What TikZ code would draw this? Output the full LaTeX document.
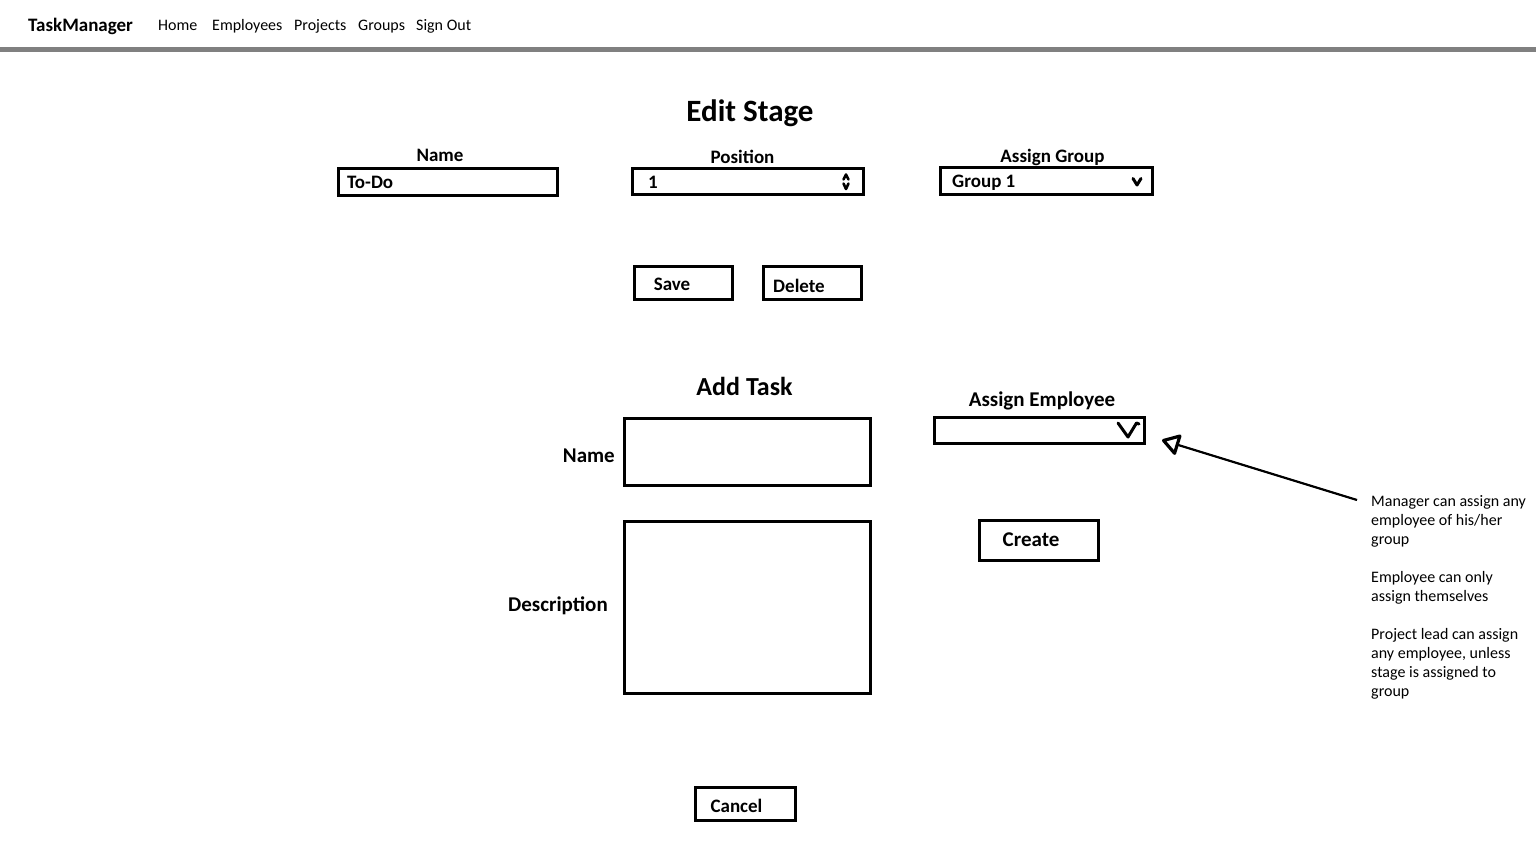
\documentclass[tikz,border=0pt]{standalone}
\usepackage{fontspec}
\setmainfont{Carlito}
\usetikzlibrary{arrows.meta}
\begin{document}
\begin{tikzpicture}[x=1pt,y=-1pt,
  txt/.style={inner sep=0pt, anchor=base},
  navtxt/.style={txt, anchor=base west, font=\fontsize{16}{19}\selectfont},
  brand/.style={txt, anchor=base west, font=\fontsize{19}{22}\selectfont\bfseries},
  lbl/.style={txt, font=\fontsize{19}{22}\selectfont\bfseries},
  lblL/.style={txt, font=\fontsize{21}{24}\selectfont\bfseries},
  ttl/.style={txt, font=\fontsize{31}{36}\selectfont\bfseries},
  subttl/.style={txt, font=\fontsize{26}{30}\selectfont\bfseries},
  note/.style={inner sep=0pt, anchor=base west, align=left, font=\fontsize{16}{19}\selectfont},
  fbox/.style={draw=black, line width=3pt, inner sep=0pt, fill=none},
  navline/.style={draw=gray, line width=4.5pt},
  glyph/.style={draw=black, line width=2.6pt, line cap=round, line join=round},
  pointer/.style={draw=black, line width=2.2pt,
    -{Triangle[open, length=19pt, width=23pt, line width=3.2pt, round]}}
]
\useasboundingbox (0,0) rectangle (1536,864);

% navigation bar
\node[brand] (brandTxt) at (28,32) {TaskManager};
\node[navtxt] (navHome) at (158,31) {Home};
\node[navtxt] (navEmp) at (212,31) {Employees};
\node[navtxt] (navProj) at (294,31) {Projects};
\node[navtxt] (navGrp) at (358,31) {Groups};
\node[navtxt] (navOut) at (416,31) {Sign Out};
\coordinate (navL) at (0,49.5);
\coordinate (navR) at (1536,49.5);
\draw[navline] (navL) -- (navR);

% Edit Stage
\node[ttl] (editTitle) at (750,121.5) {Edit Stage};

\node[lbl] (nameLbl) at (440,161) {Name};
\node[fbox, minimum width=219pt, minimum height=27pt] (nameBox) at (448,182) {};
\node[lbl, anchor=base west] (nameVal) at (347,188) {To-Do};

\node[lbl] (posLbl) at (742.5,163) {Position};
\node[fbox, minimum width=231pt, minimum height=26pt] (posBox) at (747.5,181.5) {};
\node[lbl, anchor=base west] (posVal) at (648,188) {1};
\draw[glyph] (843.5,179.5) -- (846,174.5) -- (848.5,179.5);
\draw[glyph] (843.5,183.5) -- (846,189) -- (848.5,183.5);

\node[lbl] (grpLbl) at (1052.5,162) {Assign Group};
\node[fbox, minimum width=212pt, minimum height=27pt] (grpBox) at (1046.5,181) {};
\node[lbl, anchor=base west] (grpVal) at (952,187) {Group 1};
\draw[glyph, line width=3pt] (1133,178.5) -- (1137,185) -- (1141,178.5);

\node[fbox, minimum width=98pt, minimum height=33.5pt] (saveBtn) at (683.5,282.75) {};
\node[lbl] (saveTxt) at (672,290) {Save};
\node[fbox, minimum width=98pt, minimum height=33.5pt] (delBtn) at (812.5,282.75) {};
\node[lbl] (delTxt) at (799,292) {Delete};

% Add Task
\node[subttl] (addTitle) at (744.5,395) {Add Task};

\node[lblL, anchor=base east] (tNameLbl) at (615,462) {Name};
\node[fbox, minimum width=246pt, minimum height=67.6pt] (tNameBox) at (747.8,452) {};

\node[lblL, anchor=base east] (tDescLbl) at (608,611) {Description};
\node[fbox, minimum width=246pt, minimum height=172pt] (tDescBox) at (747.5,607.5) {};

\node[lblL] (empLbl) at (1042,406) {Assign Employee};
\node[fbox, minimum width=210pt, minimum height=26pt] (empBox) at (1039.2,430.5) {};
\draw[glyph, line width=3pt] (1118,423) -- (1128,437) -- (1136.5,423) -- (1139,424);

\node[fbox, minimum width=119pt, minimum height=39.4pt] (createBtn) at (1039.4,540.5) {};
\node[lblL] (createTxt) at (1031,546) {Create};

\node[fbox, minimum width=99.7pt, minimum height=33pt] (cancelBtn) at (745.3,803.7) {};
\node[lbl] (cancelTxt) at (736.5,812.5) {Cancel};

% notes (base anchor = baseline of the last line)
\node[note] (note1) at (1371,544.5) {Manager can assign any\\employee of his/her\\group};
\node[note] (note2) at (1371,601.5) {Employee can only\\assign themselves};
\node[note] (note3) at (1371,696.5) {Project lead can assign\\any employee, unless\\stage is assigned to\\group};

\coordinate (arrowTail) at (1357,500);
\coordinate (arrowTip) at (1162,440);
\draw[pointer] (arrowTail) -- (arrowTip);
\end{tikzpicture}
\end{document}
